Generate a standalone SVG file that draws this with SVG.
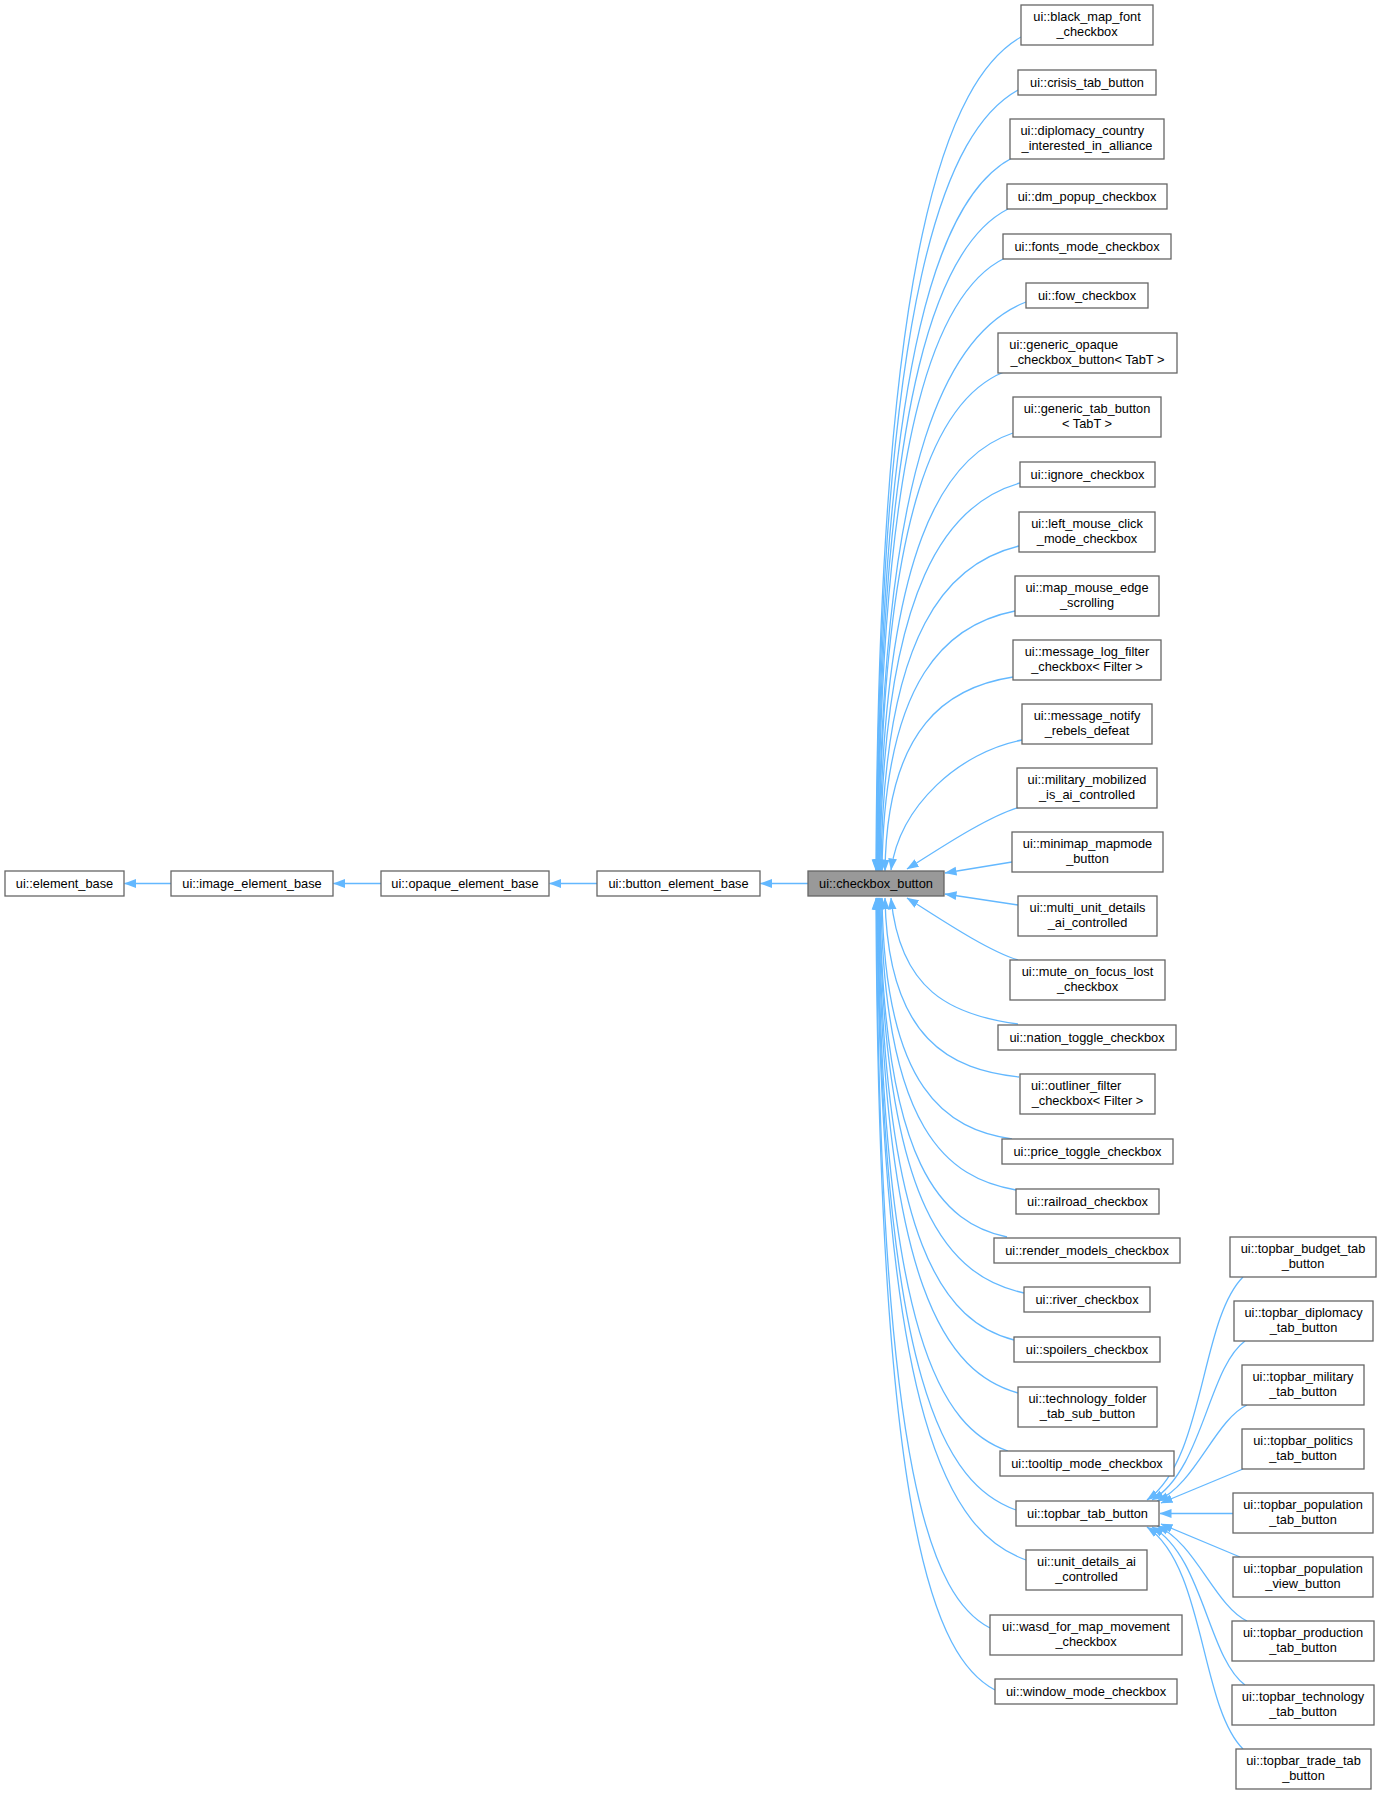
<svg xmlns="http://www.w3.org/2000/svg" width="1381" height="1795" viewBox="0 0 1381 1795">
<style>
.n rect{fill:#ffffff;stroke:#666666;stroke-width:1.3}
.n.hl rect{fill:#999999}
text{font-family:"Liberation Sans",Arial,Helvetica,sans-serif;font-size:12.8px;fill:#000000;text-anchor:middle}
text.s{text-anchor:start}
.e path{fill:none;stroke:#63b8ff;stroke-width:1.3;marker-end:url(#ah)}
</style>
<defs>
<marker id="ah" markerUnits="userSpaceOnUse" markerWidth="12" markerHeight="10" viewBox="0 0 12 10" refX="11.5" refY="5" orient="auto">
<path d="M0,0.6 L12,5 L0,9.4 z" fill="#63b8ff"/>
</marker>
</defs>
<rect width="1381" height="1795" fill="#ffffff"/>
<g id="edges" class="e">
<path d="M171,883.5 L124.5,883.5"/>
<path d="M381,883.5 L333.5,883.5"/>
<path d="M597,883.5 L549.5,883.5"/>
<path d="M808,883.5 L760.5,883.5"/>
<path d="M1021,37 C948.5,78.7 878.2,245.5 876,871"/>
<path d="M1018,90 C947.3,129.1 878.6,285.3 876.5,871"/>
<path d="M1012,158 C944.5,193.7 879,336.3 877,871"/>
<path d="M1008,209 C942.8,242.1 879.5,374.5 877.5,871"/>
<path d="M1005,258 C941.5,288.7 879.9,411.3 878,871"/>
<path d="M1026,302 C952.3,330.5 880.7,444.3 878.5,871"/>
<path d="M1004,372 C941.5,397 880.9,496.8 879,871"/>
<path d="M1013,433 C946.3,454.9 881.5,542.5 879.5,871"/>
<path d="M1020,483 C950,502.4 882.1,580 880,871"/>
<path d="M1019,546 C950,562.3 883.1,627.3 881,871"/>
<path d="M1015,611 C948.5,624 884,676 882,871"/>
<path d="M1013,677 C949,686.7 886.9,725.5 885,871"/>
<path d="M1022,740 C960,752 900,805 891,870"/>
<path d="M1020,807 C985,817 930,855 907,869"/>
<path d="M1012,862 L945,873"/>
<path d="M1018,905 L945,894"/>
<path d="M1018,960 C985,950 930,912 907,898"/>
<path d="M1018,1024 C950,1015 900,990 891,898"/>
<path d="M1019,1077 C952,1070 887.7,1041 885,898"/>
<path d="M1012,1139 C947,1129.4 884.6,1090.8 882,898"/>
<path d="M1016,1190 C948.5,1178.3 883.7,1131.6 881,898"/>
<path d="M1007,1237 C943.5,1223.4 882.5,1169.2 880,898"/>
<path d="M1024,1293 C951.8,1277.2 882.4,1214 879.5,898"/>
<path d="M1014,1340 C946.5,1322.3 881.7,1251.6 879,898"/>
<path d="M1018,1393 C948.3,1373.2 881.3,1294 878.5,898"/>
<path d="M1008,1451 C943,1428.9 880.6,1340.4 878,898"/>
<path d="M1016,1510 C946.8,1485.5 880.3,1387.6 877.5,898"/>
<path d="M1026,1560 C951.5,1533.5 880,1427.6 877,898"/>
<path d="M990,1628 C933.3,1598.8 878.8,1482 876.5,898"/>
<path d="M995,1690 C935.5,1658.3 878.4,1531.6 876,898"/>
<path d="M1243,1277 C1200,1320 1205,1460 1147,1500"/>
<path d="M1245,1341 C1208,1368 1203,1470 1152,1500"/>
<path d="M1247,1405 C1215,1420 1195,1485 1157,1501"/>
<path d="M1243,1469 L1161,1503"/>
<path d="M1233,1513.5 L1160,1513.5"/>
<path d="M1240,1557 L1161,1524"/>
<path d="M1247,1621 C1215,1606 1195,1542 1157,1526"/>
<path d="M1245,1685 C1208,1658 1203,1556 1152,1527"/>
<path d="M1243,1749 C1200,1706 1205,1566 1147,1527"/>
</g>
<g id="element_base" class="n"><rect x="5" y="871" width="119" height="25"/><text x="64.5" y="887.5">ui::element_base</text></g>
<g id="image_element_base" class="n"><rect x="171" y="871" width="162" height="25"/><text x="252" y="887.5">ui::image_element_base</text></g>
<g id="opaque_element_base" class="n"><rect x="381" y="871" width="168" height="25"/><text x="465" y="887.5">ui::opaque_element_base</text></g>
<g id="button_element_base" class="n"><rect x="597" y="871" width="163" height="25"/><text x="678.5" y="887.5">ui::button_element_base</text></g>
<g id="checkbox_button" class="n hl"><rect x="808" y="871" width="136" height="25"/><text x="876" y="887.5">ui::checkbox_button</text></g>

<g id="black_map_font_checkbox" class="n"><rect x="1021" y="5" width="132" height="40"/><text x="1087" y="21">ui::black_map_font</text><text x="1087" y="35.5">_checkbox</text></g>
<g id="crisis_tab_button" class="n"><rect x="1018" y="70" width="138" height="25"/><text x="1087" y="86.5">ui::crisis_tab_button</text></g>
<g id="diplomacy_country_interested_in_alliance" class="n"><rect x="1010" y="119" width="154" height="40"/><text class="s" x="1020.5" y="135">ui::diplomacy_country</text><text x="1087" y="149.5">_interested_in_alliance</text></g>
<g id="dm_popup_checkbox" class="n"><rect x="1007" y="184" width="160" height="25"/><text x="1087" y="200.5">ui::dm_popup_checkbox</text></g>
<g id="fonts_mode_checkbox" class="n"><rect x="1003" y="234" width="168" height="25"/><text x="1087" y="250.5">ui::fonts_mode_checkbox</text></g>
<g id="fow_checkbox" class="n"><rect x="1026" y="283" width="122" height="25"/><text x="1087" y="299.5">ui::fow_checkbox</text></g>
<g id="generic_opaque_checkbox_button" class="n"><rect x="998" y="333" width="179" height="40"/><text class="s" x="1009.3" y="349">ui::generic_opaque</text><text x="1087.5" y="363.5">_checkbox_button&lt; TabT &gt;</text></g>
<g id="generic_tab_button" class="n"><rect x="1013" y="397" width="148" height="40"/><text x="1087" y="413">ui::generic_tab_button</text><text x="1087" y="427.5">&lt; TabT &gt;</text></g>
<g id="ignore_checkbox" class="n"><rect x="1020" y="462" width="135" height="25"/><text x="1087.5" y="478.5">ui::ignore_checkbox</text></g>
<g id="left_mouse_click_mode_checkbox" class="n"><rect x="1019" y="512" width="136" height="40"/><text x="1087" y="528">ui::left_mouse_click</text><text x="1087" y="542.5">_mode_checkbox</text></g>
<g id="map_mouse_edge_scrolling" class="n"><rect x="1015" y="576" width="144" height="40"/><text x="1087" y="592">ui::map_mouse_edge</text><text x="1087" y="606.5">_scrolling</text></g>
<g id="message_log_filter_checkbox" class="n"><rect x="1013" y="640" width="148" height="40"/><text x="1087" y="656">ui::message_log_filter</text><text x="1087" y="670.5">_checkbox&lt; Filter &gt;</text></g>
<g id="message_notify_rebels_defeat" class="n"><rect x="1022" y="704" width="130" height="40"/><text x="1087" y="720">ui::message_notify</text><text x="1087" y="734.5">_rebels_defeat</text></g>
<g id="military_mobilized_is_ai_controlled" class="n"><rect x="1017" y="768" width="140" height="40"/><text x="1087" y="784">ui::military_mobilized</text><text x="1087" y="798.5">_is_ai_controlled</text></g>
<g id="minimap_mapmode_button" class="n"><rect x="1012" y="832" width="151" height="40"/><text x="1087.5" y="848">ui::minimap_mapmode</text><text x="1087.5" y="862.5">_button</text></g>
<g id="multi_unit_details_ai_controlled" class="n"><rect x="1018" y="896" width="139" height="40"/><text x="1087.5" y="912">ui::multi_unit_details</text><text x="1087.5" y="926.5">_ai_controlled</text></g>
<g id="mute_on_focus_lost_checkbox" class="n"><rect x="1010" y="960" width="155" height="40"/><text x="1087.5" y="976">ui::mute_on_focus_lost</text><text x="1087.5" y="990.5">_checkbox</text></g>
<g id="nation_toggle_checkbox" class="n"><rect x="998" y="1025" width="178" height="25"/><text x="1087" y="1041.5">ui::nation_toggle_checkbox</text></g>
<g id="outliner_filter_checkbox" class="n"><rect x="1020" y="1074" width="135" height="40"/><text class="s" x="1031" y="1090">ui::outliner_filter</text><text x="1087.5" y="1104.5">_checkbox&lt; Filter &gt;</text></g>
<g id="price_toggle_checkbox" class="n"><rect x="1002" y="1139" width="171" height="25"/><text x="1087.5" y="1155.5">ui::price_toggle_checkbox</text></g>
<g id="railroad_checkbox" class="n"><rect x="1016" y="1189" width="143" height="25"/><text x="1087.5" y="1205.5">ui::railroad_checkbox</text></g>
<g id="render_models_checkbox" class="n"><rect x="994" y="1238" width="186" height="25"/><text x="1087" y="1254.5">ui::render_models_checkbox</text></g>
<g id="river_checkbox" class="n"><rect x="1024" y="1287" width="126" height="25"/><text x="1087" y="1303.5">ui::river_checkbox</text></g>
<g id="spoilers_checkbox" class="n"><rect x="1014" y="1337" width="146" height="25"/><text x="1087" y="1353.5">ui::spoilers_checkbox</text></g>
<g id="technology_folder_tab_sub_button" class="n"><rect x="1018" y="1387" width="139" height="40"/><text x="1087.5" y="1403">ui::technology_folder</text><text x="1087.5" y="1417.5">_tab_sub_button</text></g>
<g id="tooltip_mode_checkbox" class="n"><rect x="1000" y="1451" width="174" height="25"/><text x="1087" y="1467.5">ui::tooltip_mode_checkbox</text></g>
<g id="topbar_tab_button" class="n"><rect x="1016" y="1501" width="143" height="25"/><text x="1087.5" y="1517.5">ui::topbar_tab_button</text></g>
<g id="unit_details_ai_controlled" class="n"><rect x="1026" y="1550" width="121" height="40"/><text x="1086.5" y="1566">ui::unit_details_ai</text><text x="1086.5" y="1580.5">_controlled</text></g>
<g id="wasd_for_map_movement_checkbox" class="n"><rect x="990" y="1615" width="192" height="40"/><text x="1086" y="1631">ui::wasd_for_map_movement</text><text x="1086" y="1645.5">_checkbox</text></g>
<g id="window_mode_checkbox" class="n"><rect x="995" y="1679" width="182" height="25"/><text x="1086" y="1695.5">ui::window_mode_checkbox</text></g>

<g id="topbar_budget_tab_button" class="n"><rect x="1230" y="1237" width="146" height="40"/><text x="1303" y="1253">ui::topbar_budget_tab</text><text x="1303" y="1267.5">_button</text></g>
<g id="topbar_diplomacy_tab_button" class="n"><rect x="1234" y="1301" width="139" height="40"/><text x="1303.5" y="1317">ui::topbar_diplomacy</text><text x="1303.5" y="1331.5">_tab_button</text></g>
<g id="topbar_military_tab_button" class="n"><rect x="1242" y="1365" width="122" height="40"/><text x="1303" y="1381">ui::topbar_military</text><text x="1303" y="1395.5">_tab_button</text></g>
<g id="topbar_politics_tab_button" class="n"><rect x="1242" y="1429" width="122" height="40"/><text x="1303" y="1445">ui::topbar_politics</text><text x="1303" y="1459.5">_tab_button</text></g>
<g id="topbar_population_tab_button" class="n"><rect x="1233" y="1493" width="140" height="40"/><text x="1303" y="1509">ui::topbar_population</text><text x="1303" y="1523.5">_tab_button</text></g>
<g id="topbar_population_view_button" class="n"><rect x="1233" y="1557" width="140" height="40"/><text x="1303" y="1573">ui::topbar_population</text><text x="1303" y="1587.5">_view_button</text></g>
<g id="topbar_production_tab_button" class="n"><rect x="1232" y="1621" width="142" height="40"/><text x="1303" y="1637">ui::topbar_production</text><text x="1303" y="1651.5">_tab_button</text></g>
<g id="topbar_technology_tab_button" class="n"><rect x="1232" y="1685" width="142" height="40"/><text x="1303" y="1701">ui::topbar_technology</text><text x="1303" y="1715.5">_tab_button</text></g>
<g id="topbar_trade_tab_button" class="n"><rect x="1236" y="1749" width="135" height="40"/><text x="1303.5" y="1765">ui::topbar_trade_tab</text><text x="1303.5" y="1779.5">_button</text></g>
</svg>
